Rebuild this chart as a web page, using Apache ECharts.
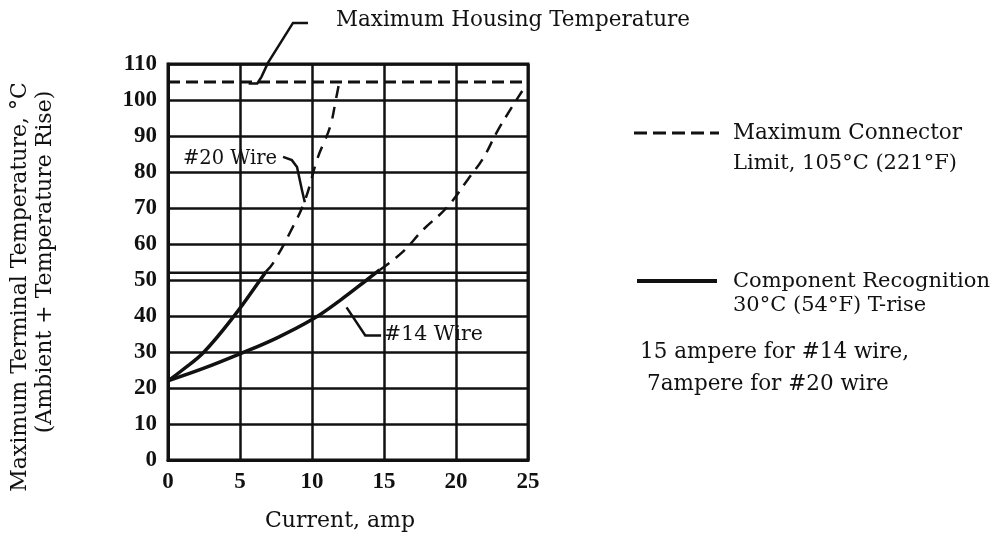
<!DOCTYPE html>
<html lang="en">
<head>
<meta charset="UTF-8">
<title>Maximum Terminal Temperature vs Current</title>
<script src="https://cdn.jsdelivr.net/npm/echarts@6/dist/echarts.min.js"></script>
<style>
  html, body { margin: 0; padding: 0; background: #fff; }
  #main { width: 998px; height: 535px; }
</style>
</head>
<body>
<div id="main"></div>
<script>
// tick values
var xTicks = [0, 5, 10, 15, 20, 25];
var yTicks = [0, 10, 20, 30, 40, 50, 60, 70, 80, 90, 100, 110];

// curves: [current (amp), temperature (°C)]
var wire14Solid = [[0, 22], [2.5, 25.5], [5, 29.5], [7.5, 33.8], [10, 39], [12, 44.5], [13.8, 50], [14.7, 52.8]];
var wire14Dashed = [[14.7, 52.8], [16.3, 57.8], [17.7, 63.9], [19.4, 70.3], [20.8, 77.8], [21.9, 83.9], [22.8, 90.8], [23.75, 97.2], [24.6, 102.5]];
var wire20Solid = [[0, 22], [1, 25], [2.5, 30], [4.65, 40.3], [6.4, 50], [6.8, 52.3]];
var wire20Dashed = [[6.8, 52.3], [7.3, 54.7], [8.5, 63.4], [9.5, 72], [10.4, 84], [11.25, 92.5], [11.7, 101], [11.9, 105]];

// reference limits
var connectorLimit = 105;
var componentLimit = 52;

var serif = 'DejaVu Serif';
var ink = '#111';

var chart = echarts.init(document.getElementById('main'));

var option = {
  animation: false,
  backgroundColor: '#fff',
  grid: {
    left: 168, right: 470, top: 64, bottom: 75,
    show: true, borderColor: ink, borderWidth: 3, backgroundColor: 'transparent'
  },
  xAxis: {
    type: 'value',
    min: xTicks[0], max: xTicks[xTicks.length - 1], interval: 5,
    axisLine: { show: true, lineStyle: { color: ink, width: 3 } },
    axisTick: { show: false },
    axisLabel: { color: ink, fontFamily: 'Liberation Serif', fontWeight: 'bold', fontSize: 23, margin: 11 },
    splitLine: { show: true, lineStyle: { color: ink, width: 2.5 } }
  },
  yAxis: {
    type: 'value',
    min: yTicks[0], max: yTicks[yTicks.length - 1], interval: 10,
    axisLine: { show: true, lineStyle: { color: ink, width: 3 } },
    axisTick: { show: false },
    axisLabel: { color: ink, fontFamily: 'Liberation Serif', fontWeight: 'bold', fontSize: 23, margin: 11 },
    splitLine: { show: true, lineStyle: { color: ink, width: 2.5 } }
  },
  series: [
    {
      name: 'Maximum Connector Limit', type: 'line', symbol: 'none',
      data: [[xTicks[0], connectorLimit], [xTicks[xTicks.length - 1], connectorLimit]],
      lineStyle: { color: ink, width: 3, type: [12, 6] }, z: 3
    },
    {
      name: 'Component Recognition', type: 'line', symbol: 'none',
      data: [[xTicks[0], componentLimit], [xTicks[xTicks.length - 1], componentLimit]],
      lineStyle: { color: ink, width: 2.5 }, z: 3
    },
    {
      name: '#14 Wire', type: 'line', symbol: 'none', smooth: 0.4,
      data: wire14Solid, lineStyle: { color: ink, width: 3.5 }, z: 4
    },
    {
      name: '#14 Wire (extrapolated)', type: 'line', symbol: 'none', smooth: 0.4,
      data: wire14Dashed, lineStyle: { color: ink, width: 2.5, type: [12, 8] }, z: 4
    },
    {
      name: '#20 Wire', type: 'line', symbol: 'none', smooth: 0.4,
      data: wire20Solid, lineStyle: { color: ink, width: 3.5 }, z: 4
    },
    {
      name: '#20 Wire (extrapolated)', type: 'line', symbol: 'none', smooth: 0.4,
      data: wire20Dashed, lineStyle: { color: ink, width: 2.5, type: [12, 9] }, z: 4
    }
  ]
};
chart.setOption(option);

// leader lines, given in data units and mapped to pixels
function px(p) { return chart.convertToPixel({ gridIndex: 0 }, p); }
function leader(points) {
  return {
    type: 'polyline', z: 10,
    shape: { points: points.map(px) },
    style: { stroke: ink, lineWidth: 2.5, fill: null }
  };
}
function label(text, x, y, opts) {
  opts = opts || {};
  return {
    type: 'text', x: x, y: y, z: 10, rotation: opts.rotation || 0,
    style: {
      text: text, fill: ink, font: (opts.weight || 'normal') + ' ' + (opts.size || 18) + 'px "' + serif + '"',
      align: opts.align || 'left', verticalAlign: 'middle'
    }
  };
}

chart.setOption({
  graphic: [
    // Maximum Housing Temperature
    leader([[9.72, 121.4], [8.68, 121.4], [6.94, 110.3], [6.5, 106.5], [6.2, 104.6], [5.6, 104.6]]),
    label('Maximum Housing Temperature', 336, 20, { size: 21.5 }),
    // #20 Wire
    leader([[7.99, 84.2], [8.6, 83.3], [8.96, 81.4], [9.3, 75], [9.5, 71.6]]),
    label('#20 Wire', 183, 159, { size: 19.5 }),
    // #14 Wire
    leader([[14.8, 34.6], [13.7, 34.6], [12.4, 42.4]]),
    label('#14 Wire', 384, 335, { size: 20.5 }),
    // legend on the right
    { type: 'line', z: 10, shape: { x1: 634, y1: 133, x2: 719, y2: 133 },
      style: { stroke: ink, lineWidth: 3, lineDash: [13, 6] } },
    label('Maximum Connector', 733, 133, { size: 21.5 }),
    label('Limit, 105°C (221°F)', 733, 164, { size: 21 }),
    { type: 'line', z: 10, shape: { x1: 637, y1: 281, x2: 717, y2: 281 },
      style: { stroke: ink, lineWidth: 4 } },
    label('Component Recognition', 733, 282, { size: 21 }),
    label('30°C (54°F) T-rise', 733, 306, { size: 21 }),
    label('15 ampere for #14 wire,', 640, 352, { size: 21.5 }),
    label('7ampere for #20 wire', 647, 384, { size: 21.5 }),
    // axis titles
    label('Maximum Terminal Temperature, °C', 20, 287, { size: 22, align: 'center', rotation: Math.PI / 2 }),
    label('(Ambient + Temperature Rise)', 45, 262, { size: 22, align: 'center', rotation: Math.PI / 2 }),
    label('Current, amp', 340, 521, { size: 22, align: 'center' })
  ]
});
</script>
</body>
</html>
